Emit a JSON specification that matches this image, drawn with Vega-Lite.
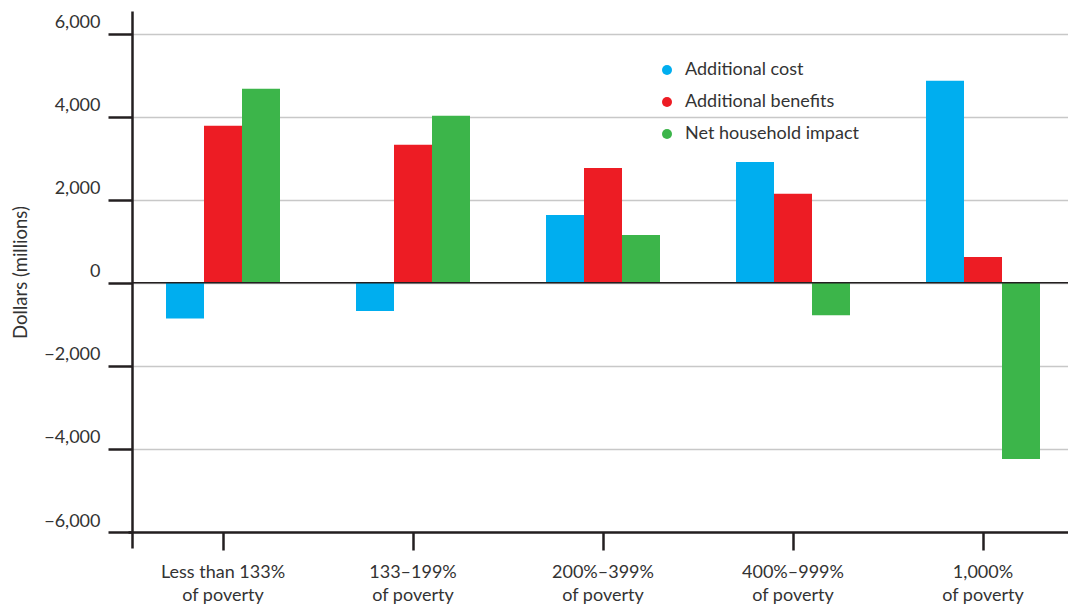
{
  "$schema": "https://vega.github.io/schema/vega-lite/v6.json",
  "width": 936,
  "height": 537,
  "autosize": "none",
  "padding": {"left": 132, "top": 11, "right": 0, "bottom": 59},
  "background": "white",
  "config": {
    "view": {"stroke": null},
    "font": "Lato",
    "axis": {"labelFont": "Lato", "titleFont": "Lato", "labelColor": "#333333", "titleColor": "#333333"},
    "legend": {"labelFont": "Lato"}
  },
  "layer": [
    {
      "data": {
        "values": [
          {"group": "Less than 133% of poverty", "series": "Additional cost", "value": -860},
          {"group": "Less than 133% of poverty", "series": "Additional benefits", "value": 3780},
          {"group": "Less than 133% of poverty", "series": "Net household impact", "value": 4670},
          {"group": "133–199% of poverty", "series": "Additional cost", "value": -680},
          {"group": "133–199% of poverty", "series": "Additional benefits", "value": 3320},
          {"group": "133–199% of poverty", "series": "Net household impact", "value": 4020},
          {"group": "200%–399% of poverty", "series": "Additional cost", "value": 1630},
          {"group": "200%–399% of poverty", "series": "Additional benefits", "value": 2765},
          {"group": "200%–399% of poverty", "series": "Net household impact", "value": 1150},
          {"group": "400%–999% of poverty", "series": "Additional cost", "value": 2910},
          {"group": "400%–999% of poverty", "series": "Additional benefits", "value": 2140},
          {"group": "400%–999% of poverty", "series": "Net household impact", "value": -780},
          {"group": "1,000% of poverty", "series": "Additional cost", "value": 4860},
          {"group": "1,000% of poverty", "series": "Additional benefits", "value": 620},
          {"group": "1,000% of poverty", "series": "Net household impact", "value": -4240}
        ]
      },
      "mark": {"type": "bar"},
      "encoding": {
        "x": {
          "field": "group",
          "type": "nominal",
          "sort": null,
          "scale": {"range": [-4, 946], "paddingInner": 0.4, "paddingOuter": 0.2},
          "axis": {
            "title": null,
            "orient": "bottom",
            "offset": -16,
            "labelAngle": 0,
            "labelExpr": "[replace(datum.label, ' of poverty', ''), 'of poverty']",
            "labelFontSize": 18,
            "labelLineHeight": 23,
            "labelPadding": 13,
            "labelBaseline": "top",
            "tickSize": 18,
            "tickWidth": 2.5,
            "tickColor": "#231f20",
            "domainColor": "#231f20",
            "domainWidth": 2.5,
            "grid": false
          }
        },
        "xOffset": {
          "field": "series",
          "type": "nominal",
          "sort": ["Additional cost", "Additional benefits", "Net household impact"],
          "scale": {"paddingInner": 0, "paddingOuter": 0}
        },
        "y": {
          "field": "value",
          "type": "quantitative",
          "scale": {"domain": [-6385, 6542], "nice": false, "zero": false},
          "axis": {
            "title": "Dollars (millions)",
            "titleFontSize": 18.5,
            "titleFontWeight": "normal",
            "titleAngle": -90,
            "titleX": -112,
            "titleY": 261,
            "titleAlign": "center",
            "titleBaseline": "middle",
            "values": [-6000, -4000, -2000, 0, 2000, 4000, 6000],
            "format": ",.0f",
            "labelFontSize": 18,
            "labelPadding": 8,
            "labelBaseline": "alphabetic",
            "labelOffset": -6,
            "tickSize": 24,
            "tickWidth": 2.5,
            "tickColor": "#231f20",
            "domainColor": "#231f20",
            "domainWidth": 2.5,
            "grid": true,
            "gridColor": "#c8c8c8",
            "gridWidth": 1.5
          }
        },
        "color": {
          "field": "series",
          "type": "nominal",
          "sort": ["Additional cost", "Additional benefits", "Net household impact"],
          "scale": {"range": ["#00aeef", "#ed1c24", "#3cb54a"]},
          "legend": {
            "title": null,
            "orient": "none",
            "legendX": 526,
            "legendY": 50,
            "symbolType": "circle",
            "symbolSize": 100,
            "symbolStrokeWidth": 0,
            "labelFontSize": 18,
            "labelColor": "#333333",
            "labelOffset": 9,
            "labelLimit": 400,
            "rowPadding": 14,
            "padding": 0
          }
        }
      }
    },
    {
      "data": {"values": [{"zero": 0}]},
      "mark": {"type": "rule", "color": "#231f20", "strokeWidth": 1.5},
      "encoding": {"y": {"field": "zero", "type": "quantitative"}}
    }
  ]
}
